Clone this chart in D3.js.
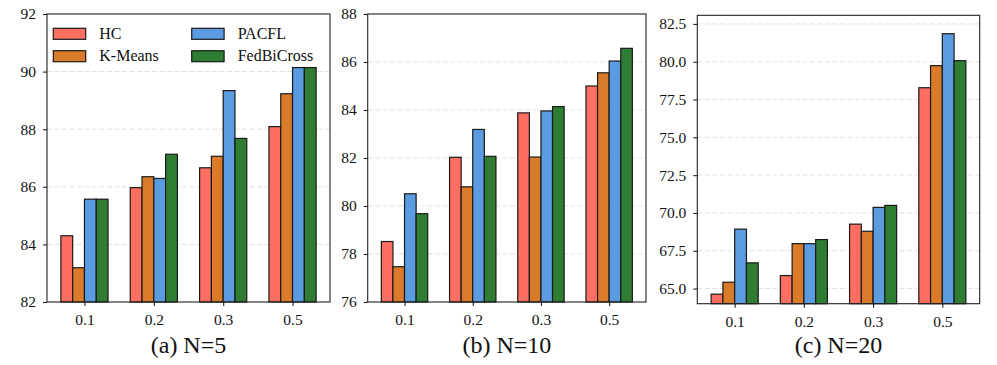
<!DOCTYPE html>
<html><head><meta charset="utf-8">
<script src="https://cdn.jsdelivr.net/npm/d3@7"></script>
<style>body{margin:0;background:#fff}svg{display:block}text{font-family:"Liberation Serif","Times New Roman",serif;fill:#111}</style>
</head><body>
<svg id="c" width="997" height="365"></svg>
<script>
const categories = ["0.1","0.2","0.3","0.5"];
const seriesNames = ["HC","K-Means","PACFL","FedBiCross"];
const seriesColors = ["#FF6F61","#D97B29","#5B9BE0","#2E7D32"];
// Panel (a) N=5
const hcA = [84.30, 85.97, 86.66, 88.09];
const kmA = [83.19, 86.35, 87.06, 89.23];
const paA = [85.57, 86.29, 89.34, 90.14];
const fbA = [85.57, 87.13, 87.68, 90.14];
// Panel (b) N=10
const hcB = [78.52, 82.03, 83.88, 85.00];
const kmB = [77.47, 80.80, 82.04, 85.55];
const paB = [80.51, 83.19, 83.96, 86.04];
const fbB = [79.68, 82.07, 84.14, 86.57];
// Panel (c) N=20
const hcC = [64.63, 65.86, 69.26, 78.28];
const kmC = [65.42, 67.97, 68.79, 79.74];
const paC = [68.93, 67.97, 70.37, 81.85];
const fbC = [66.70, 68.24, 70.50, 80.07];
const ticksA = [82,84,86,88,90,92];
const ticksB = [76,78,80,82,84,86,88];
const ticksC = [65,67.5,70,72.5,75,77.5,80,82.5];
const titles = ["(a) N=5","(b) N=10","(c) N=20"];

const panels = [
  {series:[hcA,kmA,paA,fbA], ydom:[82,92], ticks:ticksA, fmt:d3.format("d"), box:[47,330,14,302], title:titles[0], legend:true},
  {series:[hcB,kmB,paB,fbB], ydom:[76,88], ticks:ticksB, fmt:d3.format("d"), box:[367.7,646,14,302], title:titles[1]},
  {series:[hcC,kmC,paC,fbC], ydom:[64,83.07], ticks:ticksC, fmt:d3.format(".1f"), box:[697.3,979.7,15.3,303.7], title:titles[2]}
];

const svg = d3.select("#c");
const barW = 0.17;

panels.forEach(p => {
  const [l,r,t,b] = p.box;
  const x = d3.scaleLinear().domain([-0.54, 3.54]).range([l,r]);
  const y = d3.scaleLinear().domain(p.ydom).range([b,t]);
  const g = svg.append("g");
  // grid
  g.selectAll(".grid").data(p.ticks.filter(v => v>p.ydom[0] && v<p.ydom[1])).enter().append("line")
    .attr("x1",l).attr("x2",r).attr("y1",d=>y(d)).attr("y2",d=>y(d))
    .attr("stroke","#e0e0e0").attr("stroke-width",1).attr("stroke-dasharray","5,2.5");
  // bars
  p.series.forEach((vals, si) => {
    g.selectAll(".b"+si).data(vals).enter().append("rect")
      .attr("x",(d,i)=>x(i + (si-2)*barW))
      .attr("width",x(barW)-x(0))
      .attr("y",d=>y(d))
      .attr("height",d=>b-y(d))
      .attr("fill",seriesColors[si])
      .attr("stroke","#1a1a1a").attr("stroke-width",1.2);
  });
  // frame
  g.append("rect").attr("x",l).attr("y",t).attr("width",r-l).attr("height",b-t)
    .attr("fill","none").attr("stroke","#222").attr("stroke-width",1.1);
  // y axis
  const ya = d3.axisLeft(y).tickValues(p.ticks).tickFormat(p.fmt).tickSize(4).tickPadding(7);
  const yg = g.append("g").attr("transform",`translate(${l},0)`).call(ya);
  yg.select(".domain").remove();
  yg.selectAll("line").attr("stroke","#222").attr("stroke-width",1.1);
  yg.selectAll("text").attr("font-size","15.5px").attr("fill","#111");
  // x axis
  const xa = d3.axisBottom(x).tickValues([0,1,2,3]).tickFormat(i=>categories[i]).tickSize(4).tickPadding(8);
  const xg = g.append("g").attr("transform",`translate(0,${b})`).call(xa);
  xg.select(".domain").remove();
  xg.selectAll("line").attr("stroke","#222").attr("stroke-width",1.1);
  xg.selectAll("text").attr("font-size","15.5px").attr("fill","#111");
  // title
  g.append("text").attr("x",(l+r)/2).attr("y",353).attr("text-anchor","middle")
    .attr("font-size","24px").text(p.title);
  // legend
  if (p.legend) {
    const lg = g.append("g");
    seriesNames.forEach((n,i)=>{
      const col = Math.floor(i/2), row = i%2;
      const lx = 53.3 + col*138.4, ly = 28.3 + row*22.4;
      lg.append("rect").attr("x",lx).attr("y",ly).attr("width",32.4).attr("height",11)
        .attr("fill",seriesColors[i]).attr("stroke","#1a1a1a").attr("stroke-width",1.2);
      lg.append("text").attr("x",lx+46).attr("y",ly+10.5).attr("font-size","16px").text(n);
    });
  }
});
</script>
</body></html>
